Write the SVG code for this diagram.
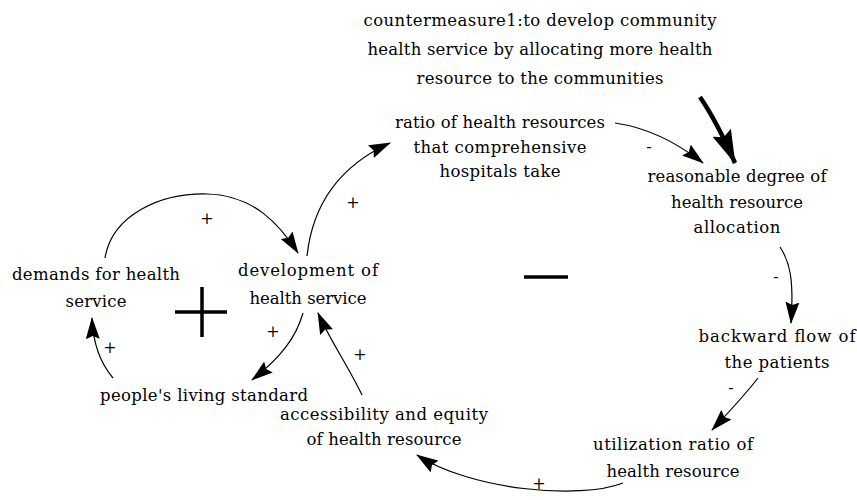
<svg xmlns="http://www.w3.org/2000/svg" width="857" height="500" viewBox="0 0 857 500">
<style>
  .t { font-family: "DejaVu Serif", "Liberation Serif", serif; font-size: 16.5px; fill: #000; text-anchor: middle; }
  .s { font-family: "DejaVu Serif", "Liberation Serif", serif; font-size: 16px; fill: #000; text-anchor: middle; }
  .c { fill: none; stroke: #000; stroke-width: 1.2; marker-end: url(#ah); }
  .ck { fill: none; stroke: #000; stroke-width: 4.5; marker-end: url(#ahk); }
  .loop { stroke: #000; stroke-width: 3.5; fill: none; }
</style>
<defs>
  <marker id="ah" viewBox="0 0 22 14" refX="21" refY="7" markerWidth="22" markerHeight="14" markerUnits="userSpaceOnUse" orient="auto">
    <path d="M0,0 L22,7 L0,14 L3,7 z" fill="#000"/>
  </marker>
  <marker id="ahk" viewBox="0 0 34 20" refX="33" refY="10" markerWidth="34" markerHeight="20" markerUnits="userSpaceOnUse" orient="auto">
    <path d="M0,0 L34,10 L0,20 L5,10 z" fill="#000"/>
  </marker>
</defs>
<rect x="0" y="0" width="857" height="500" fill="#fff"/>

<g id="connectors">
  <path class="c" d="M105,258 C112,215 160,193 207,194 S280,225 298,253"/>
  <path class="c" d="M307,256 C312,210 335,168 390,143"/>
  <path class="c" d="M615,123 C650,128 680,145 703,163"/>
  <path class="ck" d="M700,97 Q717,122 735,163"/>
  <path class="c" d="M780,247 C790,262 794,280 791,323"/>
  <path class="c" d="M758,378 C745,395 728,413 712,430"/>
  <path class="c" d="M623,483 C580,500 470,490 417,455"/>
  <path class="c" d="M362,395 C348,366 330,340 318,313"/>
  <path class="c" d="M303,313 C296,338 280,358 252,380"/>
  <path class="c" d="M113,378 C102,365 93,345 92,318"/>
</g>

<g id="polarities">
  <text class="s" x="207" y="224">+</text>
  <text class="s" x="353" y="208">+</text>
  <text class="s" x="649" y="152">-</text>
  <text class="s" x="776" y="282">-</text>
  <text class="s" x="731" y="393">-</text>
  <text class="s" x="539" y="489">+</text>
  <text class="s" x="360" y="360">+</text>
  <text class="s" x="273" y="337">+</text>
  <text class="s" x="110" y="353">+</text>
</g>

<g id="loop-signs">
  <path class="loop" d="M175,312 H227 M202,287 V337"/>
  <path class="loop" d="M524,277 H568"/>
</g>

<g id="countermeasure">
  <text class="t" x="540" y="26" textLength="353">countermeasure1:to develop community</text>
  <text class="t" x="540" y="55" textLength="345">health service by allocating more health</text>
  <text class="t" x="540" y="84" textLength="247">resource to the communities</text>
</g>
<g id="ratio">
  <text class="t" x="500" y="128" textLength="210">ratio of health resources</text>
  <text class="t" x="500" y="153" textLength="173">that comprehensive</text>
  <text class="t" x="500" y="177" textLength="121">hospitals take</text>
</g>
<g id="reasonable">
  <text class="t" x="737" y="182" textLength="179">reasonable degree of</text>
  <text class="t" x="737" y="208" textLength="132">health resource</text>
  <text class="t" x="737" y="233" textLength="87">allocation</text>
</g>
<g id="backward">
  <text class="t" x="777" y="342" textLength="157">backward flow of</text>
  <text class="t" x="777" y="368" textLength="105">the patients</text>
</g>
<g id="utilization">
  <text class="t" x="673" y="450" textLength="160">utilization ratio of</text>
  <text class="t" x="673" y="477" textLength="133">health resource</text>
</g>
<g id="accessibility">
  <text class="t" x="384" y="420" textLength="208">accessibility and equity</text>
  <text class="t" x="384" y="445" textLength="155">of health resource</text>
</g>
<g id="living">
  <text class="t" x="204" y="401" textLength="208">people's living standard</text>
</g>
<g id="demands">
  <text class="t" x="96" y="280" textLength="168">demands for health</text>
  <text class="t" x="96" y="307" textLength="61">service</text>
</g>
<g id="development">
  <text class="t" x="308" y="276" textLength="140">development of</text>
  <text class="t" x="308" y="304" textLength="117">health service</text>
</g>
</svg>
